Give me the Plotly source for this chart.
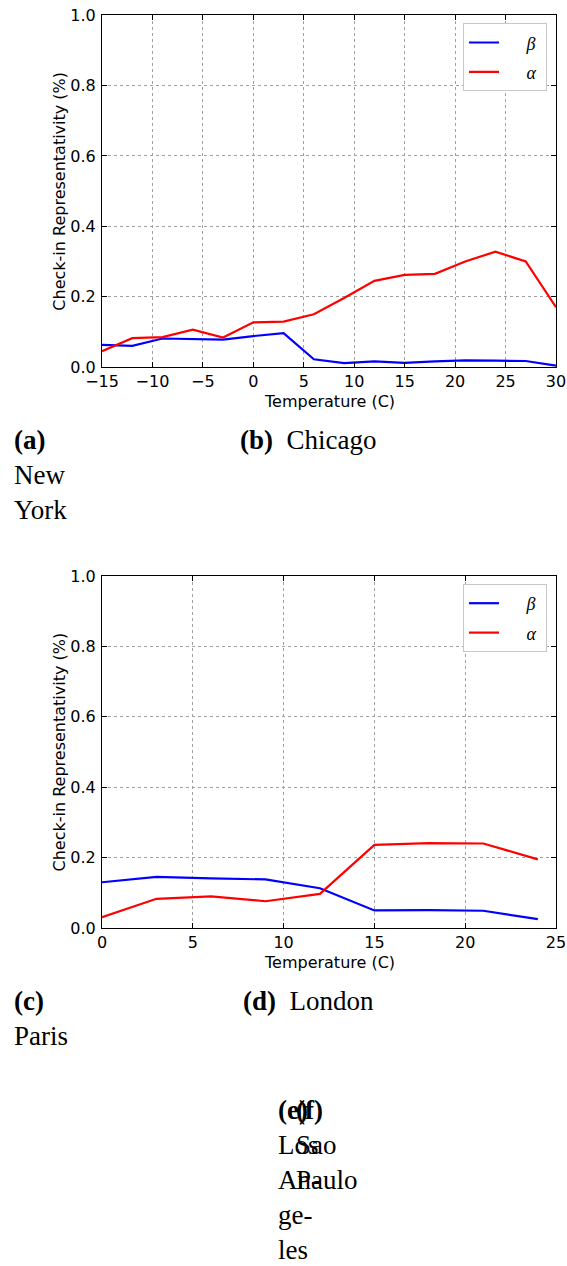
import plotly.graph_objects as go

# ---------------- data ----------------
chicago_temp = [-15, -12, -9, -6, -3, 0, 3, 6, 9, 12, 15, 18, 21, 24, 27, 30]
chicago_beta = [0.063, 0.060, 0.081, 0.079, 0.078, 0.088, 0.096, 0.022,
                0.011, 0.016, 0.012, 0.016, 0.019, 0.018, 0.017, 0.004]
chicago_alpha = [0.045, 0.082, 0.085, 0.106, 0.084, 0.127, 0.129, 0.150,
                 0.196, 0.245, 0.262, 0.265, 0.300, 0.328, 0.300, 0.170]

london_temp = [0, 3, 6, 9, 12, 15, 18, 21, 24]
london_beta = [0.130, 0.145, 0.141, 0.138, 0.113, 0.050, 0.051, 0.049, 0.025]
london_alpha = [0.031, 0.083, 0.090, 0.076, 0.097, 0.236, 0.241, 0.240, 0.195]

series_names = ["<i>β</i>", "<i>α</i>"]
series_colors = ["#0000ff", "#ff0000"]
y_title = "Check-in Representativity (%)"
x_title = "Temperature (C)"

# ---------------- layout helpers ----------------
W, H = 567, 1266
def px(x):
    return x / W
def py(y):
    return 1 - y / H

SANS = "DejaVu Sans"
SERIF = "Liberation Serif"

fig = go.Figure()

panels = [
    dict(temp=chicago_temp, beta=chicago_beta, alpha=chicago_alpha,
         xr=[-15, 30], top=15.3, bottom=367, ax="", leg="legend"),
    dict(temp=london_temp, beta=london_beta, alpha=london_alpha,
         xr=[0, 25], top=576, bottom=928, ax="2", leg="legend2"),
]

for p in panels:
    for name, vals, col, grp in zip(series_names, [p["beta"], p["alpha"]],
                                    series_colors, ["b", "a"]):
        fig.add_trace(go.Scatter(
            x=p["temp"], y=vals, mode="lines",
            name="\u00a0\u00a0\u00a0\u00a0\u00a0" + name + "\u00a0",
            line=dict(color=col, width=2.2),
            xaxis="x" + p["ax"], yaxis="y" + p["ax"],
            legend=p["leg"], legendgroup=grp + p["ax"],
        ))

axis_common = dict(
    showgrid=True, gridcolor="#a0a0a0", gridwidth=1, griddash="dot",
    showline=True, linecolor="black", linewidth=1, mirror="ticks",
    ticks="inside", ticklen=5, tickcolor="black", tickwidth=1,
    zeroline=False, automargin=False,
    tickfont=dict(family=SANS, size=16, color="black"),
)

layout = dict(
    template="none",
    width=W, height=H, autosize=False,
    margin=dict(l=0, r=0, t=0, b=0, pad=0, autoexpand=False),
    paper_bgcolor="white", plot_bgcolor="white",
    showlegend=True,
    annotations=[],
)

for p in panels:
    a = p["ax"]
    layout["xaxis" + a] = dict(
        axis_common, domain=[px(102), px(556)], range=p["xr"], dtick=5,
        anchor="y" + a, ticklabelstandoff=0,
    )
    layout["yaxis" + a] = dict(
        axis_common, domain=[py(p["bottom"]), py(p["top"])], range=[0, 1],
        dtick=0.2, tickformat=".1f", anchor="x" + a, ticklabelstandoff=2,
    )
    layout[p["leg"]] = dict(
        x=px(463), y=py(p["top"] + 8), xanchor="left", yanchor="top",
        bgcolor="white", bordercolor="#c8c8c8", borderwidth=1,
        font=dict(family=SERIF, size=18, color="black"),
        traceorder="grouped", tracegroupgap=3,
    )
    mid = (p["top"] + p["bottom"]) / 2
    layout["annotations"].append(dict(
        text=y_title, x=px(59.5), y=py(mid), xref="paper", yref="paper",
        xanchor="center", yanchor="middle", textangle=-90, showarrow=False,
        font=dict(family=SANS, size=16, color="black"),
    ))
    layout["annotations"].append(dict(
        text=x_title, x=px(329), y=py(p["bottom"] + 34), xref="paper",
        yref="paper", xanchor="center", yanchor="middle", showarrow=False,
        font=dict(family=SANS, size=16, color="black"),
    ))

captions = [
    ("<b>(a)</b><br>New<br>York", 12, 423, "left"),
    ("<b>(b)</b>\u00a0\u00a0Chicago", 308, 423, "center"),
    ("<b>(c)</b><br>Paris", 12, 984, "left"),
    ("<b>(d)</b>\u00a0\u00a0London", 308, 984, "center"),
    ("<b>(e)</b><br>Los<br>An-<br>ge-<br>les", 276, 1093, "left"),
    ("<b>(f)</b><br>Sao<br>Paulo", 294, 1093, "left"),
]
for text, x, top, anc in captions:
    layout["annotations"].append(dict(
        text=text, x=px(x), y=py(top), xref="paper", yref="paper",
        xanchor=anc, yanchor="top", align="left", showarrow=False,
        font=dict(family=SERIF, size=27, color="black"),
    ))

fig.update_layout(**layout)

fig.write_html("out.html", config={"displayModeBar": False},
               post_script="document.body.style.margin='0';")
